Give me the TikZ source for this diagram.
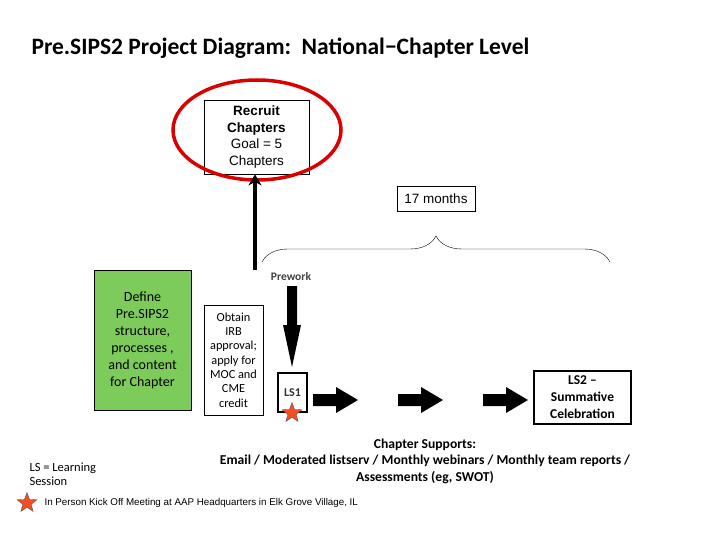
\documentclass[tikz,border=0pt]{standalone}
\usepackage{fontspec}
\setmainfont{Carlito}
\newfontfamily\arial{Liberation Sans}
\usetikzlibrary{shapes.geometric,decorations.pathreplacing,arrows.meta}
\definecolor{grn}{HTML}{7DCB5B}
\definecolor{starred}{HTML}{F04E23}
\tikzset{
  box/.style={draw,line width=0.8pt,inner sep=2pt,align=center},
  blockarrow/.style={fill=black},
  starshape/.style={star,star points=5,star point ratio=2.4,fill=starred,draw=black!70,line width=0.3pt,minimum size=21pt,inner sep=0pt}
}
\begin{document}
\begin{tikzpicture}[x=1pt,y=-1pt]
\useasboundingbox (0,0) rectangle (720,540);
\node[anchor=west,font=\fontsize{23.5}{28}\selectfont\bfseries] (title) at (28,48) {Pre.SIPS2 Project Diagram:\ \ National−Chapter Level};
\node[box,minimum width=105pt,minimum height=74pt,font=\arial\fontsize{13.5}{16.5}\selectfont] (recruit) at (256.5,137) {\textbf{Recruit}\\\textbf{Chapters}\\Goal = 5\\Chapters};
\draw[red!85!black,line width=3.5pt] (257,130) ellipse (84pt and 50pt);
\node[box,minimum width=78pt,minimum height=25pt,font=\arial\fontsize{13.5}{15}\selectfont] (months) at (436,198.5) {17 months};
\coordinate (bl) at (262,262);
\coordinate (br) at (610,262);
\draw[decorate,decoration={brace,amplitude=26pt,aspect=0.5}] (bl) -- (br);
\coordinate (upstart) at (255,270);
\draw[line width=4pt,-{Stealth[length=11pt,width=13pt]}] (upstart) -- (recruit.south -| upstart);
\node[box,fill=grn,minimum width=97pt,minimum height=140pt,font=\fontsize{14}{17}\selectfont] (define) at (142.5,340) {Define\\Pre.SIPS2\\structure,\\processes ,\\and content\\for Chapter};
\node[box,minimum width=59pt,minimum height=110pt,font=\fontsize{12.3}{14.3}\selectfont] (obtain) at (233.5,360) {Obtain\\IRB\\approval;\\apply for\\MOC and\\CME\\credit};
\node[font=\fontsize{11.5}{12}\selectfont\bfseries,text=black!75] (prework) at (291,277) {Prework};
\node[box,line width=1.5pt,minimum width=29pt,minimum height=39pt,font=\fontsize{12}{13}\selectfont\bfseries,text=black!80] (ls1) at (292.5,392.5) {LS1};
\fill[blockarrow] (287,286) -- (297,286) -- (297,325) -- (301,325) -- (292,367) -- (283,325) -- (287,325) -- cycle;
\foreach \x in {313,398,483}{
  \fill[blockarrow] (\x,394) -- (\x+23,394) -- (\x+23,387) -- (\x+45,400) -- (\x+23,413) -- (\x+23,406) -- (\x,406) -- cycle;
}
\node[box,line width=1.5pt,minimum width=97pt,minimum height=53pt,font=\fontsize{13.5}{17}\selectfont\bfseries] (ls2) at (582.5,397.5) {LS2 –\\Summative\\Celebration};
\node[starshape] (star1) at (292,413) {};
\node[align=center,font=\fontsize{13.6}{16.5}\selectfont\bfseries] (supports) at (425,461) {Chapter Supports:\\Email / Moderated listserv / Monthly webinars / Monthly team reports /\\Assessments (eg, SWOT)};
\node[anchor=west,align=left,font=\fontsize{12.5}{14.5}\selectfont] (lsnote) at (26,474) {LS = Learning\\Session};
\node[starshape] (star2) at (27,503) {};
\node[anchor=west,font=\arial\fontsize{9.8}{10}\selectfont] (kick) at (41,503) {In Person Kick Off Meeting at AAP Headquarters in Elk Grove Village, IL};
\end{tikzpicture}
\end{document}
